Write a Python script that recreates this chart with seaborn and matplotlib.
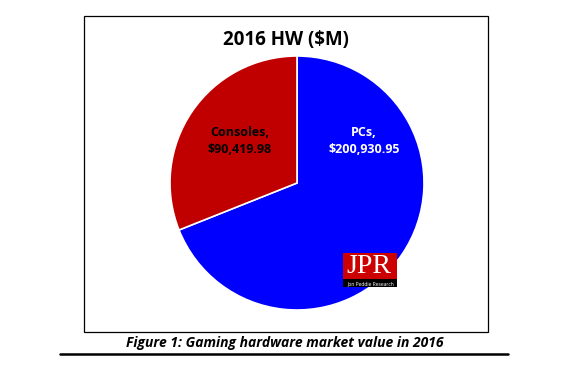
import matplotlib.pyplot as plt
import seaborn as sns
from matplotlib.patches import Rectangle
from matplotlib.lines import Line2D

# data
segments = ["PCs", "Consoles"]
values = [200930.95, 90419.98]
colors = ["#0000ff", "#c00000"]
label_colors = ["white", "black"]

sns.set_theme(style="white")
plt.rcParams['font.family'] = ['Open Sans', 'DejaVu Sans']
plt.rcParams['text.color'] = 'black'

W, H = 581, 368
fig = plt.figure(figsize=(W / 100, H / 100), dpi=100)

def fx(px):
    return px / W

def fy(py):
    return 1 - py / H

# chart frame
fig.patches.append(Rectangle((fx(84), fy(332)), fx(488) - fx(84), fy(16) - fy(332),
                             transform=fig.transFigure, fill=False,
                             edgecolor="black", linewidth=0.9))

# pie axes: center (297,183), radius 127
r = 127
ax = fig.add_axes([fx(297 - r), fy(183 + r), 2 * r / W, 2 * r / H])
wedges, _ = ax.pie(values, colors=colors, startangle=90, counterclock=False,
                   wedgeprops=dict(edgecolor="white", linewidth=1.2))
ax.set_aspect("auto")
ax.set_xlim(-1, 1)
ax.set_ylim(-1, 1)
ax.axis("off")

fig.text(fx(286), fy(40), "2016 HW ($M)", ha="center", va="center",
         fontsize=13.5, fontweight="bold")

fig.text(fx(364), fy(141), f"{segments[0]},\n${values[0]:,.2f}", ha="center", va="center",
         fontsize=9, fontweight="bold", color=label_colors[0], linespacing=1.35)
fig.text(fx(240), fy(141), f"{segments[1]},\n${values[1]:,.2f}", ha="center", va="center",
         fontsize=9, fontweight="bold", color=label_colors[1], linespacing=1.35)

# JPR logo
fig.patches.append(Rectangle((fx(343), fy(279)), fx(397) - fx(343), fy(253) - fy(279),
                             transform=fig.transFigure, facecolor="#cc0000", edgecolor="none"))
fig.patches.append(Rectangle((fx(343), fy(287)), fx(397) - fx(343), fy(279) - fy(287),
                             transform=fig.transFigure, facecolor="black", edgecolor="none"))
fig.text(fx(369), fy(266.5), "JPR", ha="center", va="center", fontsize=20,
         color="white", family="Liberation Serif")
fig.text(fx(371), fy(283.5), "Jon Peddie Research", ha="center", va="center",
         fontsize=3.6, color="white")

# caption and rule
fig.text(fx(285), fy(343), "Figure 1: Gaming hardware market value in 2016", ha="center",
         va="center", fontsize=10, fontweight="bold", fontstyle="italic")
fig.lines.append(Line2D([fx(60), fx(508)], [fy(354), fy(354)], transform=fig.transFigure,
                        color="black", linewidth=1.8))

fig.savefig("out.png", dpi=100)
